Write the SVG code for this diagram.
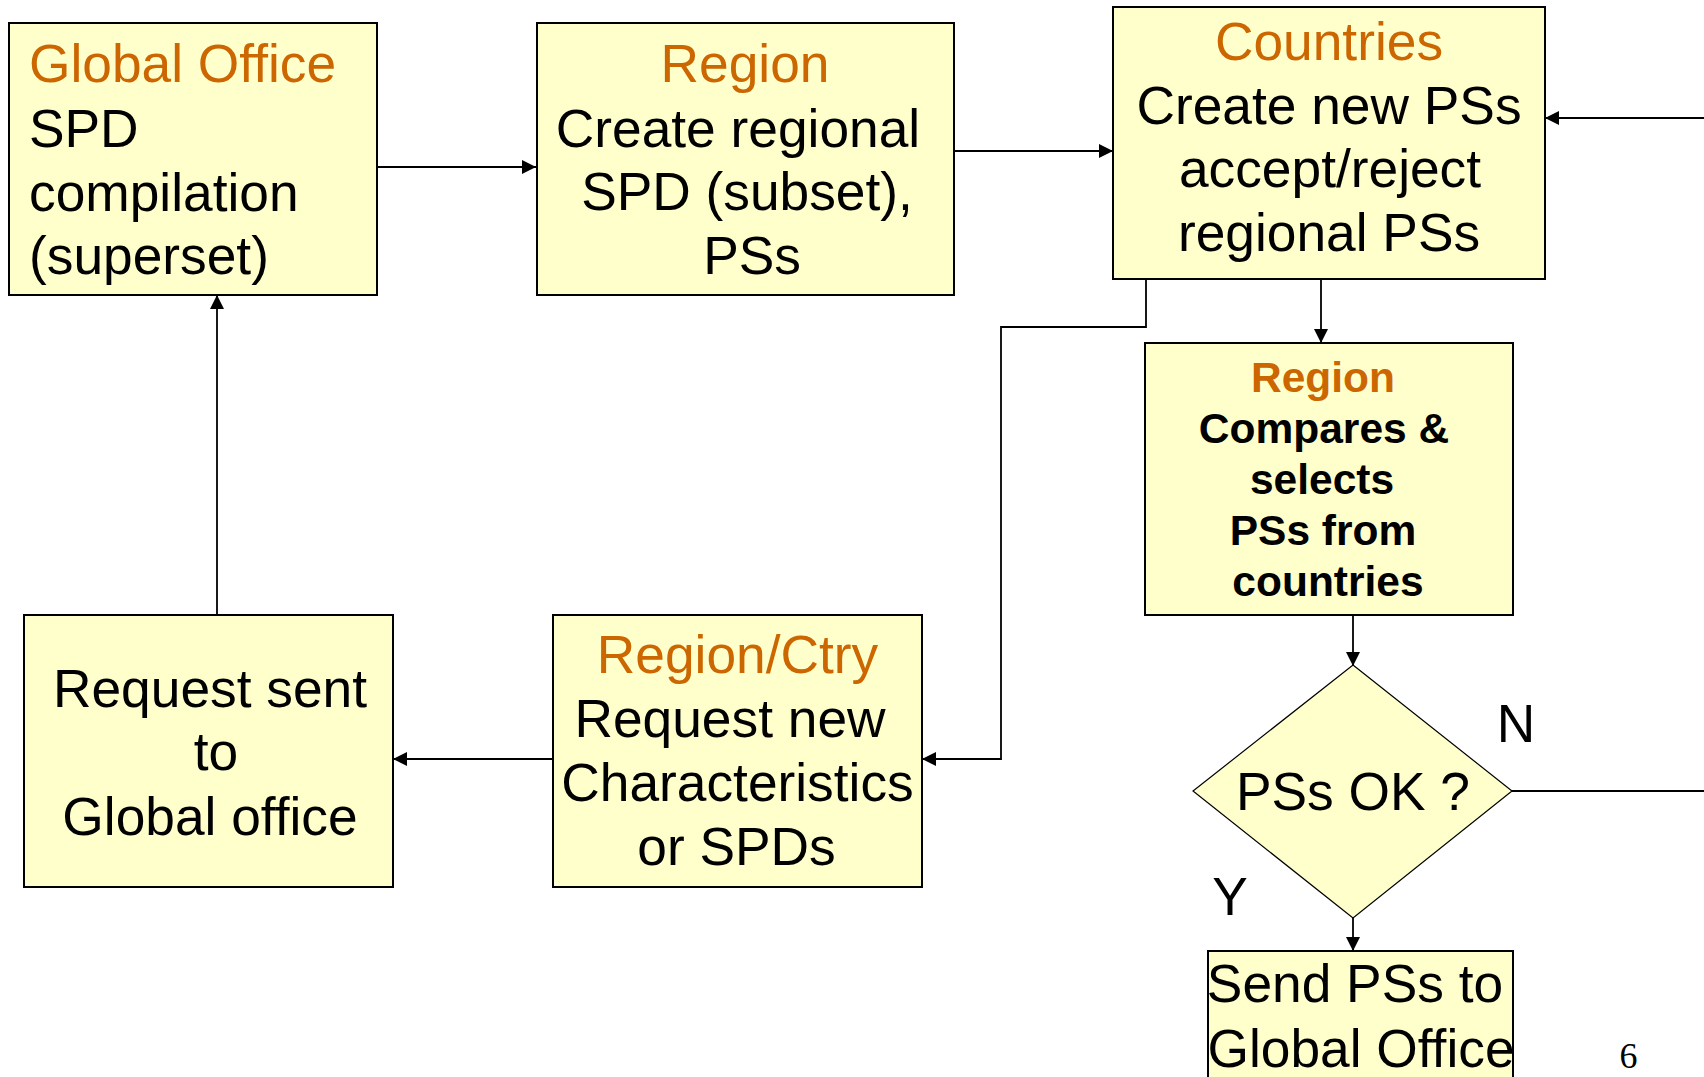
<svg xmlns="http://www.w3.org/2000/svg" width="1704" height="1077" viewBox="0 0 1704 1077">
<style>
.box{fill:#FFFFCC;stroke:#000;stroke-width:2}
.dia{fill:#FFFFCC;stroke:#000;stroke-width:1.2}
.t{font-family:"Liberation Sans",Arial,sans-serif;font-size:53.3px;fill:#000}
.c{text-anchor:middle}
.o{fill:#CC6600}
.b{font-weight:bold;font-size:42.5px}
.ln{fill:none;stroke:#000;stroke-width:1.8}
.pg{font-family:"Liberation Serif","Times New Roman",serif;font-size:36px;fill:#000;text-anchor:middle}
</style>
<defs>
<marker id="ah" markerUnits="userSpaceOnUse" viewBox="0 0 14 14" refX="14" refY="7" markerWidth="14" markerHeight="14" orient="auto">
<path d="M0,0 L14,7 L0,14 z" fill="#000"/>
</marker>
</defs>
<rect width="1704" height="1077" fill="#fff"/>
<g id="connectors">
<path class="ln" d="M377,167 H536" marker-end="url(#ah)"/>
<path class="ln" d="M954,151 H1113" marker-end="url(#ah)"/>
<path class="ln" d="M1704,118 H1545" marker-end="url(#ah)"/>
<path class="ln" d="M1146,279 V327 H1001 V759 H922" marker-end="url(#ah)"/>
<path class="ln" d="M553,759 H393" marker-end="url(#ah)"/>
<path class="ln" d="M217,615 V295" marker-end="url(#ah)"/>
<path class="ln" d="M1321,279 V343" marker-end="url(#ah)"/>
<path class="ln" d="M1353,615 V666" marker-end="url(#ah)"/>
<path class="ln" d="M1512,791 H1704"/>
<path class="ln" d="M1353,918 V951" marker-end="url(#ah)"/>
</g>
<g id="global-office">
<rect class="box" x="9" y="23" width="368" height="272"/>
<text class="t o" x="29" y="82">Global Office</text>
<text class="t" x="29" y="147">SPD</text>
<text class="t" x="29" y="211">compilation</text>
<text class="t" x="29" y="274">(superset)</text>
</g>
<g id="region-create">
<rect class="box" x="537" y="23" width="417" height="272"/>
<text class="t c o" x="745" y="82">Region</text>
<text class="t c" x="738" y="147">Create regional</text>
<text class="t c" x="747" y="210">SPD (subset),</text>
<text class="t c" x="752" y="274">PSs</text>
</g>
<g id="countries">
<rect class="box" x="1113" y="7" width="432" height="272"/>
<text class="t c o" x="1329" y="60">Countries</text>
<text class="t c" x="1329" y="124">Create new PSs</text>
<text class="t c" x="1330" y="187">accept/reject</text>
<text class="t c" x="1329" y="251">regional PSs</text>
</g>
<g id="region-compares">
<rect class="box" x="1145" y="343" width="368" height="272"/>
<text class="t c b o" x="1323" y="392">Region</text>
<text class="t c b" x="1324" y="443">Compares &amp;</text>
<text class="t c b" x="1322" y="494">selects</text>
<text class="t c b" x="1323" y="545">PSs from</text>
<text class="t c b" x="1328" y="596">countries</text>
</g>
<g id="decision">
<polygon class="dia" points="1353,665 1512,791 1353,918 1193,791"/>
<text class="t c" x="1353" y="810">PSs OK ?</text>
<text class="t c" x="1516" y="742">N</text>
<text class="t c" x="1230" y="915">Y</text>
</g>
<g id="send-ps">
<rect class="box" x="1208" y="951" width="305" height="140"/>
<text class="t c" x="1355" y="1002">Send PSs to</text>
<text class="t c" x="1361" y="1067">Global Office</text>
</g>
<g id="region-ctry">
<rect class="box" x="553" y="615" width="369" height="272"/>
<text class="t c o" x="737.5" y="673">Region/Ctry</text>
<text class="t c" x="730" y="737">Request new</text>
<text class="t c" x="737.5" y="801">Characteristics</text>
<text class="t c" x="736.5" y="865">or SPDs</text>
</g>
<g id="request-sent">
<rect class="box" x="24" y="615" width="369" height="272"/>
<text class="t c" x="210" y="707">Request sent</text>
<text class="t c" x="216" y="770">to</text>
<text class="t c" x="210" y="835">Global office</text>
</g>
<text class="pg" x="1628.5" y="1068">6</text>
</svg>
